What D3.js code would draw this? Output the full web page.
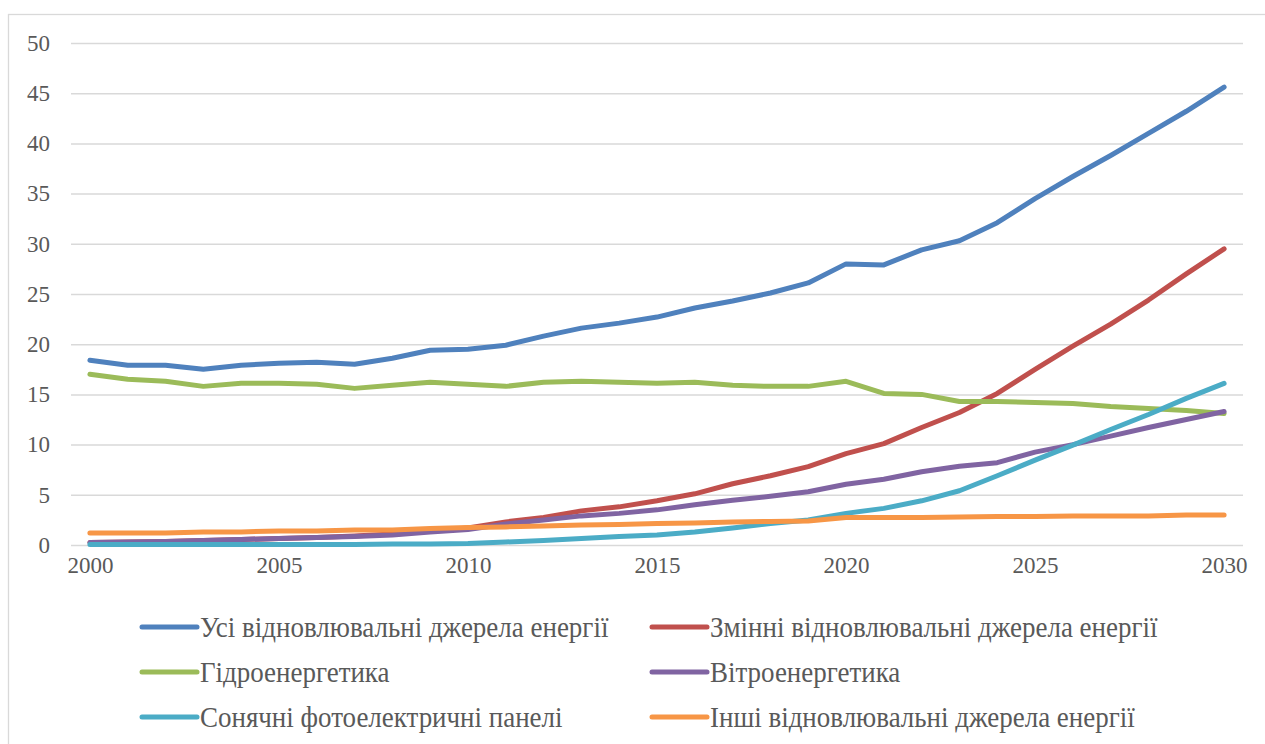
<!DOCTYPE html>
<html>
<head>
<meta charset="utf-8">
<script src="https://cdn.jsdelivr.net/npm/d3@7"></script>
<style>
  html, body { margin: 0; padding: 0; background: #fff; }
  svg { display: block; }
  .lbl { font-family: "Liberation Serif", "Times New Roman", Tinos, "DejaVu Serif", serif; fill: #595959; }
</style>
</head>
<body>
<svg id="chart" width="1265" height="744"></svg>
<script>
// Years on the horizontal axis
const years = d3.range(2000, 2031);
const xTickYears = [2000, 2005, 2010, 2015, 2020, 2025, 2030];
const yTicks = [0, 5, 10, 15, 20, 25, 30, 35, 40, 45, 50];

// Series values, one per year 2000..2030
const allRenewables = [18.4, 17.9, 17.9, 17.5, 17.9, 18.1, 18.2, 18.0, 18.6, 19.4, 19.5, 19.9, 20.8, 21.6, 22.1, 22.7, 23.6, 24.3, 25.1, 26.1, 28.0, 27.9, 29.4, 30.3, 32.1, 34.5, 36.7, 38.8, 41.0, 43.2, 45.6];
const variableRenewables = [0.25, 0.3, 0.35, 0.45, 0.55, 0.65, 0.75, 0.9, 1.1, 1.4, 1.7, 2.3, 2.75, 3.4, 3.8, 4.4, 5.1, 6.1, 6.9, 7.8, 9.1, 10.1, 11.7, 13.2, 15.1, 17.5, 19.8, 22.0, 24.4, 27.0, 29.5];
const hydro = [17.0, 16.5, 16.3, 15.8, 16.1, 16.1, 16.0, 15.6, 15.9, 16.2, 16.0, 15.8, 16.2, 16.3, 16.2, 16.1, 16.2, 15.9, 15.8, 15.8, 16.3, 15.1, 15.0, 14.3, 14.3, 14.2, 14.1, 13.8, 13.6, 13.4, 13.1];
const wind = [0.25, 0.3, 0.35, 0.45, 0.55, 0.65, 0.75, 0.85, 1.0, 1.3, 1.55, 2.1, 2.5, 2.9, 3.15, 3.5, 4.0, 4.45, 4.85, 5.3, 6.05, 6.55, 7.3, 7.85, 8.2, 9.25, 10.0, 10.85, 11.7, 12.5, 13.3];
const solar = [0.05, 0.05, 0.05, 0.05, 0.05, 0.05, 0.05, 0.05, 0.1, 0.1, 0.15, 0.3, 0.45, 0.65, 0.85, 1.0, 1.3, 1.7, 2.15, 2.5, 3.15, 3.65, 4.4, 5.4, 6.9, 8.45, 9.95, 11.5, 13.0, 14.6, 16.1];
const otherRenewables = [1.2, 1.2, 1.2, 1.3, 1.3, 1.4, 1.4, 1.5, 1.5, 1.65, 1.75, 1.8, 1.9, 2.0, 2.05, 2.15, 2.2, 2.3, 2.35, 2.4, 2.75, 2.75, 2.75, 2.8, 2.85, 2.85, 2.9, 2.9, 2.9, 3.0, 3.0];

const seriesNames = [
  "Усі відновлювальні джерела енергії",
  "Змінні відновлювальні джерела енергії",
  "Гідроенергетика",
  "Вітроенергетика",
  "Сонячні фотоелектричні панелі",
  "Інші відновлювальні джерела енергії"
];
const seriesColors = ["#4F81BD", "#C0504D", "#9BBB59", "#8064A2", "#4BACC6", "#F79646"];
const seriesValues = [allRenewables, variableRenewables, hydro, wind, solar, otherRenewables];

const series = seriesNames.map((name, i) => ({
  name, color: seriesColors[i],
  values: years.map((yr, j) => ({ year: yr, value: seriesValues[i][j] }))
}));

const svg = d3.select("#chart");

// Chart frame
svg.append("rect")
  .attr("x", 8.5).attr("y", 14.5)
  .attr("width", 1270).attr("height", 740)
  .attr("fill", "#fff").attr("stroke", "#d9d9d9").attr("stroke-width", 1.3);

const plot = { left: 71, right: 1243, top: 43, bottom: 545 };

const x = d3.scalePoint()
  .domain(years)
  .range([plot.left, plot.right])
  .padding(0.5);

const y = d3.scaleLinear()
  .domain([0, 50])
  .range([plot.bottom, plot.top]);

// Horizontal gridlines and value labels
const yAxis = d3.axisLeft(y).tickValues(yTicks).tickSize(-(plot.right - plot.left)).tickPadding(21);
const gy = svg.append("g").attr("transform", `translate(${plot.left},0)`).call(yAxis)
  .attr("font-family", null).attr("font-size", null);
gy.select(".domain").remove();
gy.selectAll(".tick line").attr("stroke", "#d9d9d9").attr("stroke-width", 1.5);
gy.selectAll(".tick text")
  .attr("class", "lbl")
  .attr("fill", "#595959")
  .attr("font-size", 23);

// Year labels
const xAxis = d3.axisBottom(x).tickValues(xTickYears).tickSize(0).tickPadding(12);
const gx = svg.append("g").attr("transform", `translate(0,${plot.bottom})`).call(xAxis)
  .attr("font-family", null).attr("font-size", null);
gx.select(".domain").remove();
gx.selectAll(".tick text")
  .attr("class", "lbl")
  .attr("fill", "#595959")
  .attr("font-size", 23);

// Series lines
const line = d3.line()
  .x(d => x(d.year))
  .y(d => y(d.value));

svg.append("g")
  .selectAll("path")
  .data(series)
  .join("path")
  .attr("d", d => line(d.values))
  .attr("fill", "none")
  .attr("stroke", d => d.color)
  .attr("stroke-width", 5)
  .attr("stroke-linejoin", "round")
  .attr("stroke-linecap", "round");

// Legend: two columns, three rows
const legendCols = [142, 652];
const legendRows = [627, 672, 717];
const legend = svg.append("g");
series.forEach((s, i) => {
  const lx = legendCols[i % 2];
  const ly = legendRows[Math.floor(i / 2)];
  const g = legend.append("g").attr("transform", `translate(${lx},${ly})`);
  g.append("line")
    .attr("x1", 0).attr("x2", 55)
    .attr("stroke", s.color).attr("stroke-width", 5)
    .attr("stroke-linecap", "round");
  g.append("text")
    .attr("class", "lbl")
    .attr("transform", "translate(58,0) scale(0.93,1)")
    .attr("dy", "0.35em")
    .attr("font-size", 29)
    .text(s.name);
});
</script>
</body>
</html>
